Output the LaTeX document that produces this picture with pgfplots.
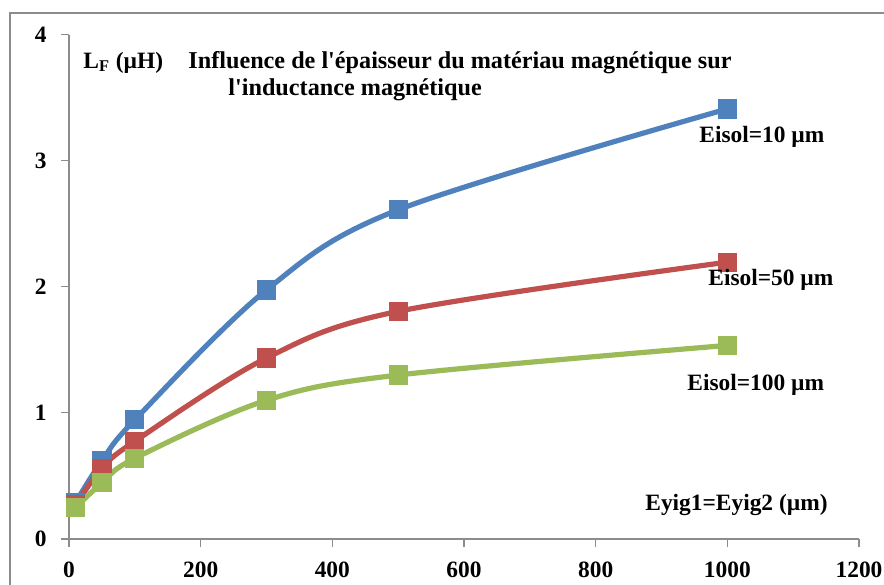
\documentclass[border=0pt]{standalone}
\usepackage{fontspec}
\setmainfont{Liberation Serif}
\usepackage{pgfplots}
\pgfplotsset{compat=1.18}

\definecolor{sBlue}{HTML}{4F81BD}
\definecolor{sRed}{HTML}{C0504D}
\definecolor{sGreen}{HTML}{9BBB59}
\definecolor{frameGray}{HTML}{8C8C8C}

\newcommand{\lbl}{\fontsize{11.7}{13}\selectfont\bfseries}
\newcommand{\ttl}{\fontsize{12.1}{13}\selectfont\bfseries}

\begin{document}
\begin{tikzpicture}[x=0.5pt,y=-0.5pt]
  \useasboundingbox (0,0) rectangle (884,584);
  % chart area frame (left and top edges)
  \draw[frameGray, line width=0.8pt] (10,600) -- (10,13) -- (900,13);

  \begin{axis}[
    at={(34.5pt,-269.5pt)}, anchor=origin,
    scale only axis,
    width=395pt, height=252.25pt,
    xmin=0, xmax=1200, ymin=0, ymax=4,
    xtick={0,200,...,1200}, ytick={0,1,2,3,4},
    axis x line*=bottom, axis y line*=left,
    axis line style={frameGray, line width=0.6pt},
    tick style={frameGray, line width=0.6pt},
    tick align=outside, major tick length=4pt,
    /pgf/number format/1000 sep={},
    /pgf/number format/assume math mode=true,
    ticklabel style={font=\lbl},
    xticklabel style={inner sep=0pt, yshift=-7.5pt},
    yticklabel style={inner sep=0pt, xshift=-7pt},
    clip=false,
    every axis plot/.append style={smooth, tension=0.55, line width=2.6pt,
      mark=square*, mark size=3.5pt, mark options={solid}},
  ]
    % Eisol = 10 um
    \addplot[sBlue] coordinates {
      (10,0.29) (50,0.62) (100,0.945) (300,1.975) (500,2.61) (1000,3.41)};
    % Eisol = 50 um
    \addplot[sRed] coordinates {
      (10,0.27) (50,0.56) (100,0.775) (300,1.435) (500,1.805) (1000,2.195)};
    % Eisol = 100 um
    \addplot[sGreen] coordinates {
      (10,0.25) (50,0.445) (100,0.64) (300,1.10) (500,1.30) (1000,1.535)};
  \end{axis}

  \node[anchor=base west, inner sep=0pt] at (83,68) {\lbl L\textsubscript{F} (µH)};
  \node[anchor=base west, inner sep=0pt] at (188,68) {\ttl Influence de l\textquotesingle épaisseur du matériau magnétique sur};
  \node[anchor=base west, inner sep=0pt] at (228,95) {\ttl l\textquotesingle inductance magnétique};
  \node[anchor=base west, inner sep=0pt] at (699,142) {\lbl Eisol=10 µm};
  \node[anchor=base west, inner sep=0pt] at (708,285) {\lbl Eisol=50 µm};
  \node[anchor=base west, inner sep=0pt] at (687,390) {\lbl Eisol=100 µm};
  \node[anchor=base west, inner sep=0pt] at (645,510) {\lbl Eyig1=Eyig2 (µm)};
\end{tikzpicture}
\end{document}
